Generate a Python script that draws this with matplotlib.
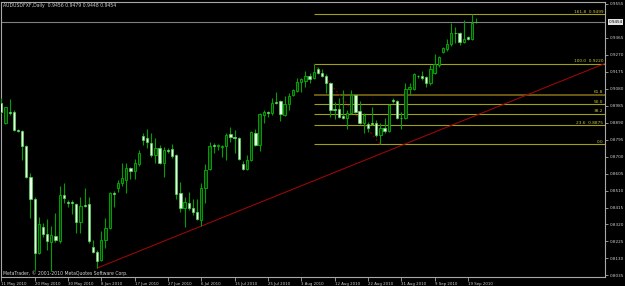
import matplotlib
matplotlib.use('Agg')
import matplotlib.pyplot as plt
import matplotlib.transforms as mtransforms
import numpy as np

# ---------------- data ----------------
opens = [0.9000, 0.8888, 0.8950, 0.8950, 0.8849, 0.8844, 0.8760, 0.8586, 0.8463, 0.8160,
         0.8306, 0.8267, 0.8222, 0.8255, 0.8227, 0.8485, 0.8446, 0.8446, 0.8435, 0.8334,
         0.8429, 0.8435, 0.8194, 0.8166, 0.8121, 0.8233, 0.8300, 0.8496, 0.8524, 0.8552,
         0.8569, 0.8636, 0.8620, 0.8659, 0.8815, 0.8804, 0.8776, 0.8709, 0.8748, 0.8664,
         0.8737, 0.8743, 0.8709, 0.8496, 0.8412, 0.8440, 0.8412, 0.8390, 0.8345, 0.8524,
         0.8631, 0.8765, 0.8760, 0.8754, 0.8760, 0.8827, 0.8810, 0.8804, 0.8659, 0.8631,
         0.8681, 0.8832, 0.8765, 0.8933, 0.8950, 0.8944, 0.9006, 0.9012, 0.8933, 0.8995,
         0.9045, 0.9068, 0.9118, 0.9124, 0.9152, 0.9140, 0.9191, 0.9168, 0.9152, 0.9112,
         0.8967, 0.8967, 0.8928, 0.8916, 0.8944, 0.9045, 0.8956, 0.8888, 0.8883, 0.8888,
         0.8888, 0.8821, 0.8860, 0.8844, 0.9017, 0.9012, 0.8916, 0.8916, 0.9079, 0.9079,
         0.9152, 0.9152, 0.9146, 0.9112, 0.9168, 0.9213, 0.9286, 0.9303, 0.9331, 0.9393,
         0.9393, 0.9342, 0.9370, 0.9359, 0.9456]
highs = [0.9028, 0.8980, 0.9023, 0.8961, 0.8855, 0.8849, 0.8765, 0.8608, 0.8474, 0.8362,
         0.8328, 0.8351, 0.8311, 0.8384, 0.8535, 0.8552, 0.8457, 0.8457, 0.8440, 0.8474,
         0.8524, 0.8474, 0.8233, 0.8177, 0.8283, 0.8356, 0.8502, 0.8507, 0.8569, 0.8664,
         0.8664, 0.8642, 0.8687, 0.8737, 0.8832, 0.8855, 0.8832, 0.8804, 0.8765, 0.8754,
         0.8748, 0.8771, 0.8715, 0.8558, 0.8474, 0.8502, 0.8463, 0.8463, 0.8552, 0.8659,
         0.8782, 0.8776, 0.8771, 0.8765, 0.8832, 0.8866, 0.8849, 0.8810, 0.8676, 0.8709,
         0.8844, 0.8855, 0.8944, 0.8961, 0.8956, 0.9028, 0.9062, 0.9017, 0.9040, 0.9056,
         0.9079, 0.9140, 0.9140, 0.9180, 0.9168, 0.9220, 0.9202, 0.9191, 0.9163, 0.9118,
         0.9006, 0.9028, 0.9073, 0.8961, 0.9073, 0.9051, 0.9012, 0.8944, 0.8894, 0.8978,
         0.8905, 0.8888, 0.8916, 0.8995, 0.9028, 0.9017, 0.8950, 0.9112, 0.9112, 0.9168,
         0.9157, 0.9180, 0.9149, 0.9213, 0.9275, 0.9264, 0.9314, 0.9359, 0.9449, 0.9426,
         0.9398, 0.9465, 0.9376, 0.9497, 0.9479]
lows = [0.8944, 0.8885, 0.8933, 0.8844, 0.8838, 0.8681, 0.8580, 0.8356, 0.8065, 0.8155,
        0.8250, 0.8177, 0.8059, 0.8222, 0.8216, 0.8440, 0.8418, 0.8379, 0.8272, 0.8272,
        0.8418, 0.8216, 0.8160, 0.8076, 0.8115, 0.8188, 0.8295, 0.8418, 0.8502, 0.8535,
        0.8496, 0.8575, 0.8575, 0.8648, 0.8765, 0.8748, 0.8698, 0.8664, 0.8659, 0.8586,
        0.8720, 0.8695, 0.8463, 0.8390, 0.8306, 0.8401, 0.8373, 0.8345, 0.8311, 0.8440,
        0.8625, 0.8720, 0.8737, 0.8698, 0.8681, 0.8782, 0.8720, 0.8681, 0.8625, 0.8625,
        0.8676, 0.8760, 0.8732, 0.8888, 0.8922, 0.8933, 0.8995, 0.8900, 0.8928, 0.8961,
        0.9040, 0.9062, 0.9062, 0.9090, 0.9112, 0.9135, 0.9163, 0.9146, 0.9056, 0.8922,
        0.8911, 0.8916, 0.8911, 0.8855, 0.8939, 0.8947, 0.8883, 0.8832, 0.8838, 0.8877,
        0.8810, 0.8768, 0.8832, 0.8838, 0.9000, 0.8911, 0.8855, 0.8911, 0.9045, 0.9073,
        0.9140, 0.9129, 0.9090, 0.9101, 0.9163, 0.9202, 0.9280, 0.9292, 0.9320, 0.9337,
        0.9325, 0.9337, 0.9353, 0.9353, 0.9448]
closes = [0.8950, 0.8978, 0.8947, 0.8849, 0.8844, 0.8760, 0.8586, 0.8463, 0.8160, 0.8323,
          0.8267, 0.8227, 0.8261, 0.8233, 0.8485, 0.8468, 0.8440, 0.8443, 0.8334, 0.8423,
          0.8423, 0.8227, 0.8166, 0.8115, 0.8233, 0.8300, 0.8496, 0.8491, 0.8552, 0.8580,
          0.8636, 0.8620, 0.8664, 0.8720, 0.8793, 0.8782, 0.8709, 0.8748, 0.8664, 0.8737,
          0.8732, 0.8703, 0.8491, 0.8412, 0.8446, 0.8412, 0.8390, 0.8351, 0.8524, 0.8625,
          0.8760, 0.8760, 0.8765, 0.8760, 0.8821, 0.8810, 0.8804, 0.8687, 0.8631, 0.8681,
          0.8838, 0.8765, 0.8939, 0.8950, 0.8947, 0.9000, 0.9003, 0.8939, 0.8995, 0.9040,
          0.9073, 0.9118, 0.9135, 0.9152, 0.9135, 0.9174, 0.9168, 0.9152, 0.9112, 0.8961,
          0.8964, 0.8922, 0.8916, 0.8944, 0.9045, 0.8950, 0.8888, 0.8933, 0.8860, 0.8883,
          0.8821, 0.8860, 0.8844, 0.8989, 0.9014, 0.8916, 0.8914, 0.9079, 0.9090, 0.9163,
          0.9149, 0.9140, 0.9112, 0.9191, 0.9219, 0.9258, 0.9309, 0.9331, 0.9393, 0.9390,
          0.9342, 0.9359, 0.9359, 0.9449, 0.9454]

chart_title = "AUDUSDFXF,Daily  0.9456 0.9479 0.9448 0.9454"
copyright_text = "MetaTrader, \u00a9 2001-2010 MetaQuotes Software Corp."
date_tick_bars = [0, 8, 16, 24, 32, 40, 48, 56, 64, 72, 80, 88, 96, 104, 112]
date_labels = ["11 May 2010", "20 May 2010", "30 May 2010", "8 Jun 2010", "17 Jun 2010",
               "27 Jun 2010", "6 Jul 2010", "15 Jul 2010", "25 Jul 2010", "3 Aug 2010",
               "12 Aug 2010", "22 Aug 2010", "31 Aug 2010", "9 Sep 2010", "19 Sep 2010"]
price_ticks = [0.9555, 0.9365, 0.9270, 0.9175, 0.9080, 0.8985, 0.8890, 0.8795, 0.8700,
               0.8605, 0.8510, 0.8415, 0.8320, 0.8225, 0.8130, 0.8035]
bid_price = 0.9454
fib_high_bar, fib_high = 75, 0.9220
fib_low_bar, fib_low = 91, 0.8768
fib_ratios = [1.618, 1.0, 0.618, 0.5, 0.382, 0.236, 0.0]
fib_labels = ["161.8  0.9499", "100.0  0.9220", "61.8", "50.0", "38.2", "23.6  0.8875", "0.0"]
trend_bars = [23, 48]
trend_prices = [0.8076, 0.8311]

# ---------------- figure ----------------
W, H = 625, 286
fig = plt.figure(figsize=(W / 100, H / 100), dpi=100, facecolor='black')
ax = fig.add_axes([0.5 / W, 9 / H, 604.5 / W, 275 / H])
ax.set_facecolor('black')
XMIN, XMAX = -0.2, 144.9
ax.set_xlim(XMIN, XMAX)
ax.set_ylim(0.80257, 0.95662)

x = np.arange(len(opens))
o = np.array(opens); h = np.array(highs); l = np.array(lows); c = np.array(closes)
up = c >= o
ax.vlines(x, l, h, color='#00a000', lw=0.8, zorder=3)
bottom = np.minimum(o, c)
height = np.maximum(np.abs(c - o), 0.00014)
ax.bar(x[up], height[up], bottom=bottom[up], width=0.55, color='#063006',
       edgecolor='#00b800', linewidth=0.6, zorder=4)
ax.bar(x[~up], height[~up], bottom=bottom[~up], width=0.55, color='#eaffea',
       edgecolor='#50d850', linewidth=0.5, zorder=4)

# fibonacci levels
rng = fib_high - fib_low
for r, lab in zip(fib_ratios, fib_labels):
    lvl = fib_low + r * rng
    if r == 0.618:
        ax.hlines(lvl, fib_high_bar, XMAX, color='#6a5a12', lw=1.4, zorder=2)
    else:
        ax.hlines(lvl, fib_high_bar, XMAX, color='#a0a014', lw=0.8, zorder=2)
    ax.text(XMAX - 0.4, lvl + 0.0002, lab, ha='right', va='bottom', fontsize=3.1,
            color='#c8c83c', zorder=5)
ax.plot([fib_high_bar, fib_low_bar], [fib_high, fib_low], color='#a00000',
        ls=(0, (1.5, 2.5)), lw=0.8, zorder=2)

# trend line
slope = (trend_prices[1] - trend_prices[0]) / (trend_bars[1] - trend_bars[0])
ax.plot([trend_bars[0], XMAX], [trend_prices[0], trend_prices[0] + slope * (XMAX - trend_bars[0])],
        color='#a00808', lw=0.75, zorder=2)

# bid line
ax.axhline(bid_price, color='#808080', lw=0.8, zorder=1)
tr = mtransforms.blended_transform_factory(ax.transAxes, ax.transData)
ax.text(1.006, bid_price, "%.4f" % bid_price, transform=tr, ha='left', va='center',
        fontsize=3.0, color='black', bbox=dict(fc='#e4e4e4', ec='none', pad=0.5),
        clip_on=False, zorder=6)

# axes styling
for s in ax.spines.values():
    s.set_color('#a8a8a8')
    s.set_linewidth(0.8)
ax.yaxis.tick_right()
ax.set_yticks(price_ticks, ["%.4f" % p for p in price_ticks])
ax.tick_params(axis='y', colors='#a8a8a8', labelcolor='#d0d0d0', length=2, width=0.6,
               labelsize=3.0, pad=1.5)
ax.set_xticks(date_tick_bars, date_labels, ha='left')
ax.tick_params(axis='x', colors='#a8a8a8', labelcolor='#d0d0d0', length=3, width=0.6,
               labelsize=2.8, pad=0.6)

fig.text(3 / W, 1 - 5.7 / H, chart_title, fontsize=3.3, color='#d0d0d0', va='center', ha='left')
fig.text(3 / W, 1 - 273.5 / H, copyright_text, fontsize=3.3, color='#d0d0d0', va='center', ha='left')

fig.savefig('out.png', dpi=100, facecolor='black')
